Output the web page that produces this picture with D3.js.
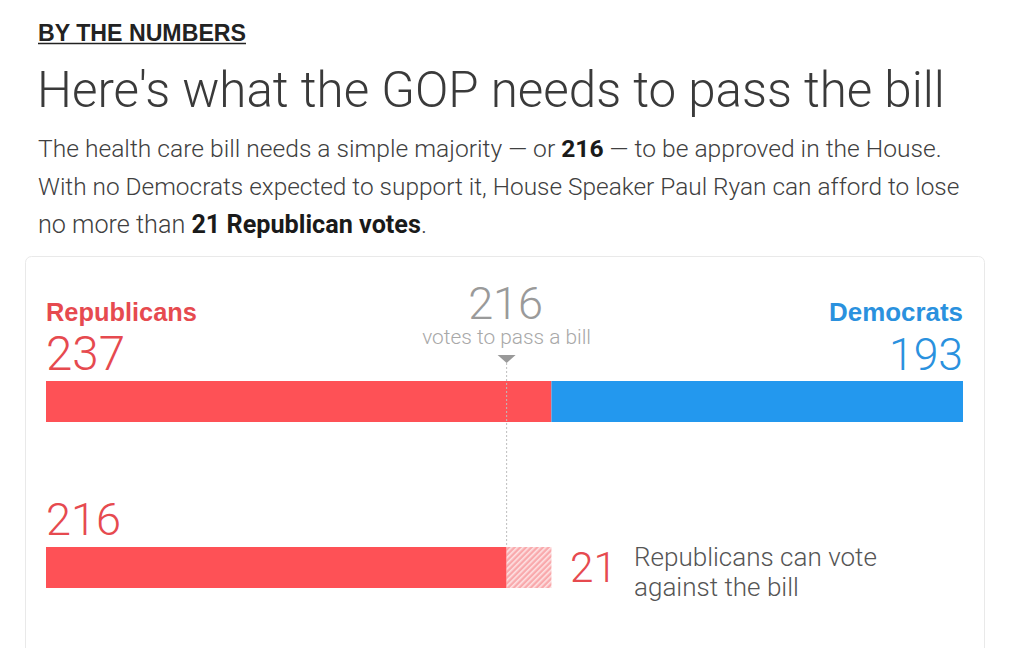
<!DOCTYPE html>
<html>
<head>
<meta charset="utf-8">
<script src="https://cdn.jsdelivr.net/npm/d3@7"></script>
<style>
  html, body { margin: 0; padding: 0; background: #fff; }
  svg { display: block; }
</style>
</head>
<body>
<div id="chart"></div>
<script>
// Data read from the graphic
const parties = ["Republicans", "Democrats"];
const seats = [237, 193];
const totalSeats = 430;
const votesNeeded = 216;
const canLose = 21;

const kicker = "BY THE NUMBERS";
const headline = "Here's what the GOP needs to pass the bill";
const bodyLines = [
  [["The health care bill needs a simple majority \u2014 or ", false], ["216", true], [" \u2014 to be approved in the House.", false]],
  [["With no Democrats expected to support it, House Speaker Paul Ryan can afford to lose", false]],
  [["no more than ", false], ["21 Republican votes", true], [".", false]]
];
const neededLabel = "votes to pass a bill";
const loseLabel = ["Republicans can vote", "against the bill"];

const red = "#fe5156", redText = "#e64a4f", blue = "#2398ee", blueText = "#2a91de";
const light = "Roboto, 'Helvetica Neue', sans-serif";
const bold = "'Liberation Sans', Arial, sans-serif";

const W = 1024, H = 648;
const svg = d3.select("#chart").append("svg")
    .attr("width", W)
    .attr("height", H);

// squeeze/stretch the font size so a text hits the width seen in the picture
function fit(sel, w) {
  const len = sel.node().getComputedTextLength();
  const fs = parseFloat(sel.attr("font-size"));
  sel.attr("font-size", (fs * w / len).toFixed(2));
  return sel;
}

// header
const k = svg.append("text")
    .attr("x", 38).attr("y", 41)
    .attr("font-family", bold).attr("font-weight", 700)
    .attr("font-size", 21).attr("fill", "#222")
    .text(kicker);
fit(k, 208);
svg.append("line")
    .attr("x1", 38).attr("x2", 246)
    .attr("y1", 43.5).attr("y2", 43.5)
    .attr("stroke", "#222").attr("stroke-width", 1.6);

const t = svg.append("text")
    .attr("x", 37).attr("y", 107)
    .attr("font-family", light).attr("font-weight", 300)
    .attr("font-size", 44).attr("fill", "#3a3a3a")
    .text(headline);
fit(t, 908);

const bodyWidths = [904, 922, 389];
bodyLines.forEach((parts, i) => {
  const line = svg.append("text")
      .attr("x", 38).attr("y", 157 + i * 38)
      .attr("font-family", light).attr("font-weight", 300)
      .attr("font-size", 21).attr("fill", "#404040");
  parts.forEach(([s, b]) => {
    line.append("tspan")
        .attr("font-weight", b ? 700 : 300)
        .attr("fill", b ? "#1a1a1a" : "#404040")
        .text(s);
  });
  fit(line, bodyWidths[i]);
});

// card
svg.append("rect")
    .attr("x", 25.5).attr("y", 256.5)
    .attr("width", 959).attr("height", 440)
    .attr("rx", 6)
    .attr("fill", "#fff")
    .attr("stroke", "#e9e9e9");

// hatch pattern for the votes the GOP can spare
const pat = svg.append("defs").append("pattern")
    .attr("id", "hatch")
    .attr("patternUnits", "userSpaceOnUse")
    .attr("width", 4).attr("height", 4)
    .attr("patternTransform", "rotate(45)");
pat.append("rect").attr("width", 4).attr("height", 4).attr("fill", "#f9a9ac");
pat.append("rect").attr("width", 1.6).attr("height", 4).attr("fill", "#fde3e4");

const x = d3.scaleLinear().domain([0, totalSeats]).range([46, 963]);

// row 1: whole House
const row1 = { top: 381, h: 41 };
const stack = [
  { party: parties[0], x0: 0, x1: seats[0], color: red },
  { party: parties[1], x0: seats[0], x1: seats[0] + seats[1], color: blue }
];
svg.selectAll(".seat-bar")
  .data(stack)
  .enter().append("rect")
    .attr("class", "seat-bar")
    .attr("x", d => x(d.x0))
    .attr("y", row1.top)
    .attr("width", d => x(d.x1) - x(d.x0))
    .attr("height", row1.h)
    .attr("fill", d => d.color);

const labelData = [
  { name: parties[0], n: seats[0], at: x(0), anchor: "start", col: redText, nw: 79, lw: 151 },
  { name: parties[1], n: seats[1], at: x(totalSeats), anchor: "end", col: blueText, nw: 74, lw: 134 }
];
labelData.forEach(d => {
  const a = svg.append("text")
      .attr("x", d.at).attr("y", 321)
      .attr("text-anchor", d.anchor)
      .attr("font-family", bold).attr("font-weight", 700)
      .attr("font-size", 23).attr("fill", d.col)
      .text(d.name);
  fit(a, d.lw);
  const b = svg.append("text")
      .attr("x", d.at).attr("y", 370)
      .attr("text-anchor", d.anchor)
      .attr("font-family", light).attr("font-weight", 300)
      .attr("font-size", 44).attr("fill", d.col)
      .text(d.n);
  fit(b, d.nw);
});

// threshold marker
const xm = x(votesNeeded);
const n216 = svg.append("text")
    .attr("x", xm - 1).attr("y", 319)
    .attr("text-anchor", "middle")
    .attr("font-family", light).attr("font-weight", 300)
    .attr("font-size", 42).attr("fill", "#9a9a9a")
    .text(votesNeeded);
fit(n216, 75);
const vl = svg.append("text")
    .attr("x", xm).attr("y", 344)
    .attr("text-anchor", "middle")
    .attr("font-family", light).attr("font-weight", 300)
    .attr("font-size", 18).attr("fill", "#a8a8a8")
    .text(neededLabel);
fit(vl, 169);
svg.append("path")
    .attr("d", `M${xm - 9},355 L${xm + 9},355 L${xm},363 Z`)
    .attr("fill", "#999");
svg.append("line")
    .attr("x1", xm).attr("x2", xm)
    .attr("y1", 363).attr("y2", 547)
    .attr("stroke", "#bdbdbd")
    .attr("stroke-width", 1)
    .attr("stroke-dasharray", "2,2");

// row 2: what is needed vs. what can be lost
const row2 = { top: 547, h: 41 };
svg.append("rect")
    .attr("x", x(0)).attr("y", row2.top)
    .attr("width", x(votesNeeded) - x(0))
    .attr("height", row2.h)
    .attr("fill", red);
svg.append("rect")
    .attr("x", x(votesNeeded)).attr("y", row2.top)
    .attr("width", x(votesNeeded + canLose) - x(votesNeeded))
    .attr("height", row2.h)
    .attr("fill", "url(#hatch)");

const r216 = svg.append("text")
    .attr("x", x(0)).attr("y", 535)
    .attr("font-family", light).attr("font-weight", 300)
    .attr("font-size", 44).attr("fill", redText)
    .text(votesNeeded);
fit(r216, 75);

const n21 = svg.append("text")
    .attr("x", 570).attr("y", 582)
    .attr("font-family", light).attr("font-weight", 300)
    .attr("font-size", 44).attr("fill", redText)
    .text(canLose);
fit(n21, 47);

const ll = svg.append("text")
    .attr("font-family", light).attr("font-weight", 300)
    .attr("font-size", 25).attr("fill", "#555");
loseLabel.forEach((s, i) => {
  ll.append("tspan").attr("x", 634).attr("y", 566 + i * 30).text(s);
});
// size on the first line's width
const first = ll.select("tspan").node().getComputedTextLength();
ll.attr("font-size", (25 * 243 / first).toFixed(2));
</script>
</body>
</html>
